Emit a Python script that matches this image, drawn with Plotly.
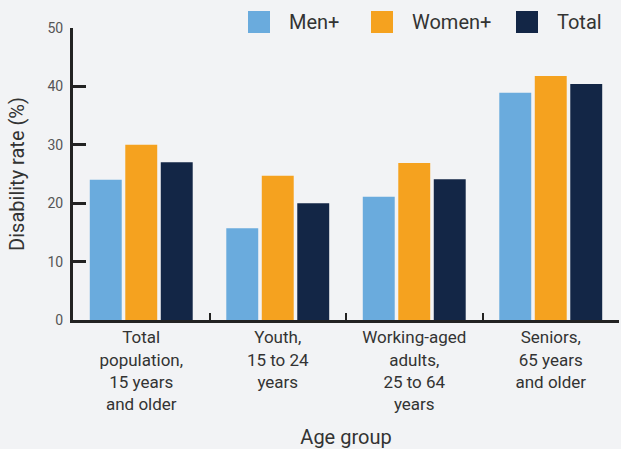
import plotly.graph_objects as go

categories = ["Total<br>population,<br>15 years<br>and older",
              "Youth,<br>15 to 24<br>years",
              "Working-aged<br>adults,<br>25 to 64<br>years",
              "Seniors,<br>65 years<br>and older"]
series_names = ["Men+", "Women+", "Total"]
men = [24.0, 15.7, 21.1, 38.9]
women = [30.0, 24.7, 26.9, 41.8]
total = [27.0, 20.0, 24.1, 40.4]
colors = ["#6aabdd", "#f5a21f", "#132646"]
y_ticks = [0, 10, 20, 30, 40, 50]

BG = "#f2f3f5"
FONT = "Roboto"

fig = go.Figure()
for name, vals, col in zip(series_names, [men, women, total], colors):
    fig.add_trace(go.Bar(x=categories, y=vals, name=name, marker_color=col,
                         marker_line_width=0, showlegend=False))

# custom legend (large square swatches)
legend_x = [248, 371, 516]
W, H = 621, 449
ml, mr, mt, mb = 73, 2, 28, 129
pw, ph = W - ml - mr, H - mt - mb
shapes = []
annotations = []
for name, col, lx in zip(series_names, colors, legend_x):
    x0 = (lx - ml) / pw
    x1 = (lx + 22 - ml) / pw
    shapes.append(dict(type="rect", xref="paper", yref="paper",
                       x0=x0, x1=x1, y0=1 - (33 - mt) / ph, y1=1 - (11 - mt) / ph,
                       fillcolor=col, line_width=0))
    annotations.append(dict(text=name, xref="paper", yref="paper",
                            x=(lx + 39 - ml) / pw, y=1 - (22 - mt) / ph,
                            xanchor="left", yanchor="middle", showarrow=False,
                            font=dict(family=FONT, size=20, color="#333333")))

fig.update_layout(
    width=W, height=H,
    margin=dict(l=ml, r=mr, t=mt, b=mb, autoexpand=False),
    paper_bgcolor=BG, plot_bgcolor=BG,
    barmode="group", bargap=0.22, bargroupgap=0.1,
    font=dict(family=FONT, color="#333333"),
    shapes=shapes, annotations=annotations,
    showlegend=False,
)
fig.update_xaxes(
    showline=True, linecolor="#222222", linewidth=3,
    ticks="inside", tickson="boundaries", ticklen=7, tickwidth=2, tickcolor="#222222",
    tickfont=dict(family=FONT, size=17, color="#333333"),
    title=dict(text="Age group", font=dict(family=FONT, size=20, color="#333333"), standoff=18),
    showgrid=False, automargin=False,
)
fig.update_yaxes(
    range=[0, 50], tickvals=y_ticks,
    showline=True, linecolor="#222222", linewidth=3,
    ticks="inside", ticklen=13, tickwidth=3, tickcolor="#222222",
    tickfont=dict(family=FONT, size=14, color="#555555"),
    ticklabelstandoff=4,
    title=dict(text="Disability rate (%)", font=dict(family=FONT, size=20, color="#333333"), standoff=18),
    showgrid=False, zeroline=False, automargin=False,
)

fig.write_html("out.html", config={"displayModeBar": False},
               post_script="document.body.style.margin='0';document.body.style.background='%s';" % BG)
